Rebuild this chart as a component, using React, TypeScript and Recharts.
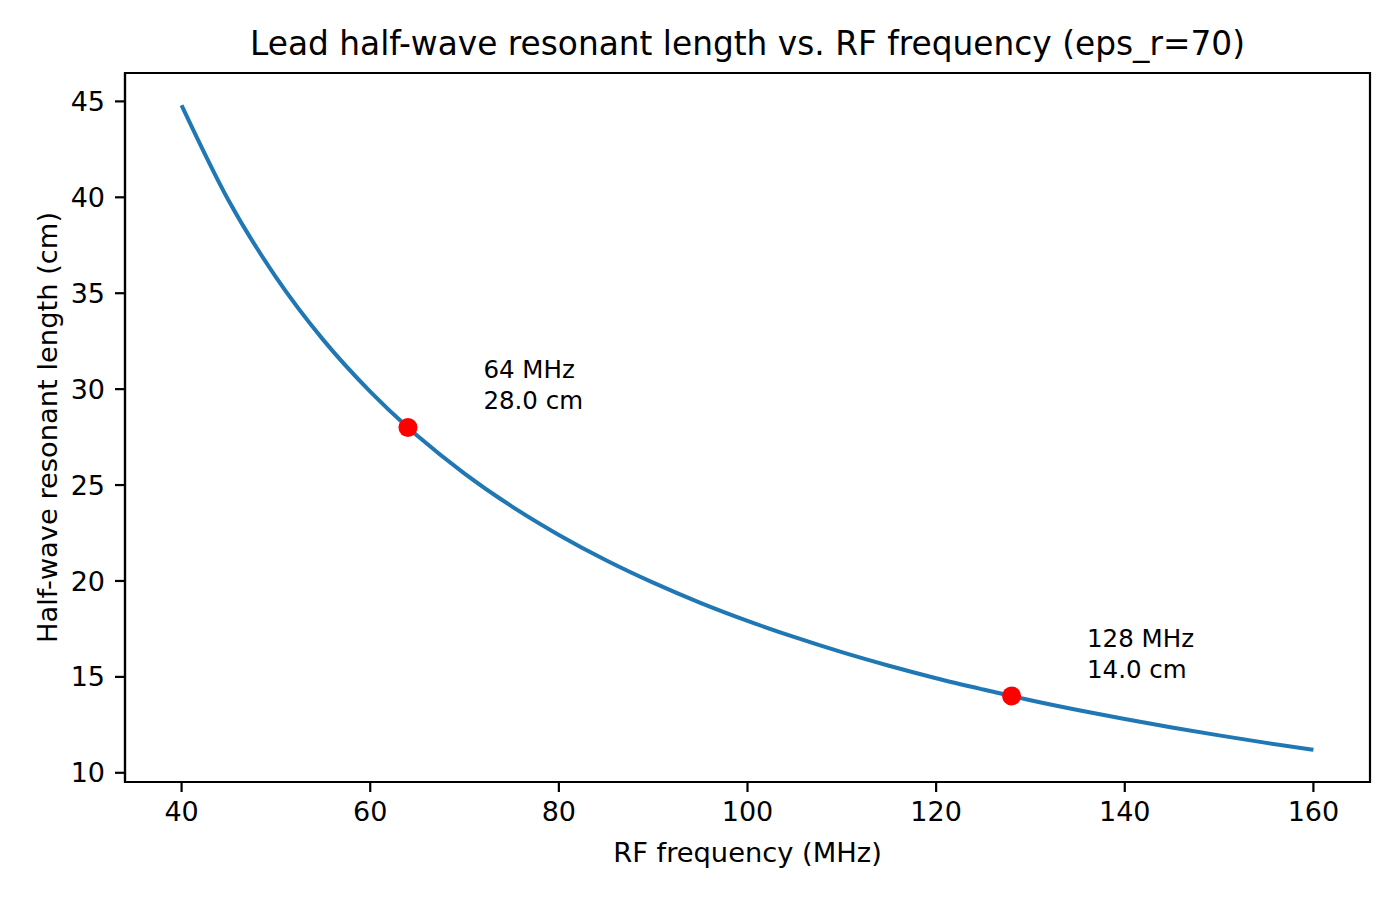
import {
  ComposedChart,
  Line,
  Scatter,
  XAxis,
  YAxis,
  ReferenceArea,
  Customized,
} from "recharts";

// half-wave resonant length (cm)
const freqs = [40, 45, 50, 55, 60, 64, 65, 70, 75, 80, 85, 90, 95, 100, 105, 110, 115, 120, 125, 128, 130, 135, 140, 145, 150, 155, 160];
const lengths = [44.8, 39.82, 35.84, 32.58, 29.87, 28.0, 27.57, 25.6, 23.89, 22.4, 21.08, 19.91, 18.86, 17.92, 17.07, 16.29, 15.58, 14.93, 14.34, 14.0, 13.78, 13.27, 12.8, 12.36, 11.95, 11.56, 11.2];

const markerFreqs = [64, 128];
const markerLengths = [28.0, 14.0];

const xTicks = [40, 60, 80, 100, 120, 140, 160];
const yTicks = [10, 15, 20, 25, 30, 35, 40, 45];

const xDomain = [34, 166];
const yDomain = [9.52, 46.48];

const curve = freqs.map((f, i) => ({ freq: f, len: lengths[i] }));
const markers = markerFreqs.map((f, i) => ({ freq: f, len: markerLengths[i] }));
// text placed at (f + 8, L + 1), bottom-left aligned
const notes = markers.map((m) => ({
  freq: m.freq + 8,
  len: m.len + 1,
  line1: `${m.freq} MHz`,
  line2: `${m.len.toFixed(1)} cm`,
}));

const FONT = "DejaVu Sans";
const tickStyle = { fill: "#000", fontSize: 27, fontFamily: FONT };

const RedDot = (props: any) => (
  <circle cx={props.cx} cy={props.cy} r={9.5} fill="#ff0000" />
);

const NoteText = (props: any) => (
  <g fontFamily={FONT} fontSize={24.5} fill="#000">
    <text x={props.cx} y={props.cy - 30}>{props.payload.line1}</text>
    <text x={props.cx} y={props.cy + 1}>{props.payload.line2}</text>
  </g>
);

const Titles = () => (
  <g fontFamily={FONT} fill="#000">
    <text x={747.5} y={55} fontSize={32.8} textAnchor="middle">
      Lead half-wave resonant length vs. RF frequency (eps_r=70)
    </text>
    <text x={747.5} y={862} fontSize={27.3} textAnchor="middle">
      RF frequency (MHz)
    </text>
    <text
      transform="translate(57,427.5) rotate(-90)"
      fontSize={27.3}
      textAnchor="middle"
    >
      Half-wave resonant length (cm)
    </text>
  </g>
);

export default function App() {
  return (
    <div style={{ position: "absolute", left: 0, top: 0, background: "#fff" }}>
      <ComposedChart
        width={1400}
        height={900}
        margin={{ top: 73, right: 30, bottom: 0, left: 0 }}
      >
        <XAxis
          dataKey="freq"
          type="number"
          domain={xDomain}
          ticks={xTicks}
          allowDataOverflow
          height={118}
          stroke="#000"
          strokeWidth={2.2}
          tickSize={10}
          tickMargin={10}
          tick={tickStyle}
          tickLine={{ stroke: "#000", strokeWidth: 2.2 }}
        />
        <YAxis
          dataKey="len"
          type="number"
          domain={yDomain}
          ticks={yTicks}
          allowDataOverflow
          width={125}
          stroke="#000"
          strokeWidth={2.2}
          tickSize={10}
          tickMargin={10}
          tick={tickStyle}
          tickLine={{ stroke: "#000", strokeWidth: 2.2 }}
        />
        {/* frame on all four sides */}
        <ReferenceArea
          x1={xDomain[0]}
          x2={xDomain[1]}
          y1={yDomain[0]}
          y2={yDomain[1]}
          fill="none"
          stroke="#000"
          strokeWidth={2.2}
          ifOverflow="visible"
        />
        <Line
          data={curve}
          dataKey="len"
          type="monotone"
          stroke="#1f77b4"
          strokeWidth={4}
          dot={false}
          activeDot={false}
          isAnimationActive={false}
        />
        <Scatter
          data={markers}
          dataKey="len"
          shape={RedDot}
          isAnimationActive={false}
        />
        <Scatter
          data={notes}
          dataKey="len"
          shape={NoteText}
          isAnimationActive={false}
        />
        <Customized component={Titles} />
      </ComposedChart>
    </div>
  );
}
